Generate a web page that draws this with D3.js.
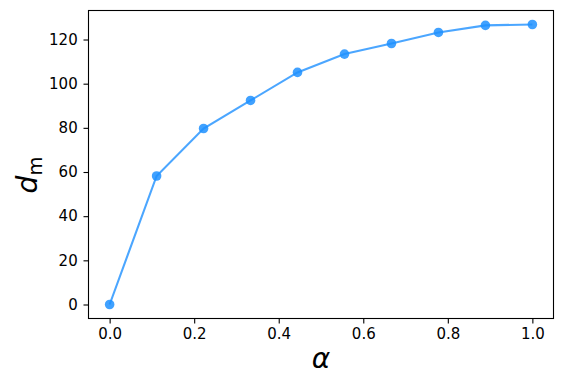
<!DOCTYPE html>
<html>
<head>
<meta charset="utf-8">
<script src="https://cdn.jsdelivr.net/npm/d3@7"></script>
<style>
  body { margin: 0; background: #fff; }
  svg { display: block; }
</style>
</head>
<body>
<div id="chart"></div>
<script>
// values
var alphaValues = [0, 0.1111, 0.2222, 0.3333, 0.4444, 0.5556, 0.6667, 0.7778, 0.8889, 1.0];
var dmValues = [0, 58.2, 79.7, 92.4, 105.1, 113.4, 118.2, 123.2, 126.4, 126.8];
var xTicks = [0, 0.2, 0.4, 0.6, 0.8, 1.0];
var yTicks = [0, 20, 40, 60, 80, 100, 120];

var width = 562, height = 386;
var margin = {top: 10.5, right: 8.5, bottom: 67.5, left: 88.5};
var color = "#1E90FF";

var svg = d3.select("#chart").append("svg")
  .attr("width", width)
  .attr("height", height);

// matplotlib style 5% padding on both ends
var xMin = d3.min(alphaValues), xMax = d3.max(alphaValues);
var yMin = d3.min(dmValues), yMax = d3.max(dmValues);
var xPad = (xMax - xMin) * 0.05, yPad = (yMax - yMin) * 0.05;

var x = d3.scaleLinear()
  .domain([xMin - xPad, xMax + xPad])
  .range([margin.left, width - margin.right]);

var y = d3.scaleLinear()
  .domain([yMin - yPad, yMax + yPad])
  .range([height - margin.bottom, margin.top]);

var data = alphaValues.map(function(a, i) { return {a: a, d: dmValues[i]}; });

// the line
var line = d3.line()
  .x(function(d) { return x(d.a); })
  .y(function(d) { return y(d.d); });

svg.append("path")
  .datum(data)
  .attr("d", line)
  .attr("fill", "none")
  .attr("stroke", color)
  .attr("stroke-opacity", 0.8)
  .attr("stroke-width", 2.1);

// markers
svg.selectAll(".dot")
  .data(data)
  .enter().append("circle")
  .attr("class", "dot")
  .attr("cx", function(d) { return x(d.a); })
  .attr("cy", function(d) { return y(d.d); })
  .attr("r", 4.8)
  .attr("fill", color)
  .attr("fill-opacity", 0.85);

function styleAxis(g) {
  g.select(".domain").remove();
  g.selectAll(".tick line").attr("stroke", "#000").attr("stroke-width", 1.1);
  g.selectAll(".tick text")
    .style("fill", "#000")
    .style("font-family", "'DejaVu Sans', sans-serif")
    .style("font-size", "15px");
}

// x axis
svg.append("g")
  .attr("transform", "translate(0," + (height - margin.bottom) + ")")
  .call(d3.axisBottom(x).tickValues(xTicks).tickFormat(d3.format(".1f"))
    .tickSize(5).tickSizeOuter(0).tickPadding(4.5))
  .call(styleAxis);

// y axis
svg.append("g")
  .attr("transform", "translate(" + margin.left + ",0)")
  .call(d3.axisLeft(y).tickValues(yTicks).tickFormat(d3.format("d"))
    .tickSize(5).tickSizeOuter(0).tickPadding(5.8))
  .call(styleAxis);

// frame
svg.append("rect")
  .attr("x", margin.left)
  .attr("y", margin.top)
  .attr("width", width - margin.left - margin.right)
  .attr("height", height - margin.top - margin.bottom)
  .attr("fill", "none")
  .attr("stroke", "#000")
  .attr("stroke-width", 1.1);

// x label
svg.append("text")
  .attr("x", (margin.left + width - margin.right) / 2)
  .attr("y", 368)
  .attr("text-anchor", "middle")
  .style("font-family", "'DejaVu Sans', sans-serif")
  .style("font-style", "italic")
  .style("font-size", "28px")
  .text("α");

// y label
var yLabel = svg.append("text")
  .attr("transform", "translate(37,175) rotate(-90)")
  .attr("text-anchor", "middle")
  .style("font-family", "'DejaVu Sans', sans-serif")
  .style("font-size", "28px");
yLabel.append("tspan").style("font-style", "italic").text("d");
yLabel.append("tspan").attr("dy", 5).style("font-size", "19.5px").text("m");
</script>
</body>
</html>
